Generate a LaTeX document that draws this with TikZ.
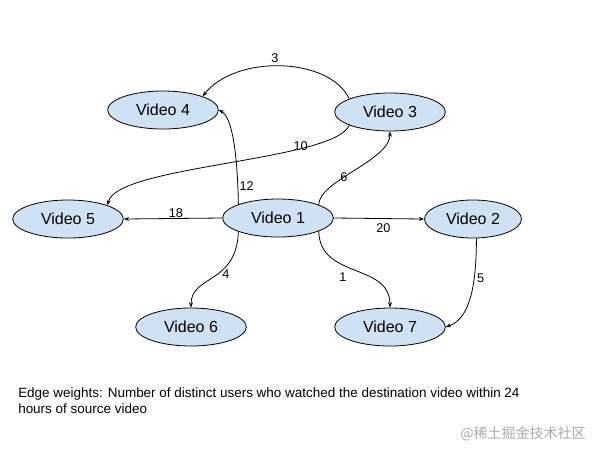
\documentclass[tikz,border=0pt]{standalone}
\usepackage{fontspec}
\setmainfont{Liberation Sans}
\newfontfamily\cjkfont{Noto Sans CJK SC}
\usetikzlibrary{arrows.meta, shapes.geometric}
\definecolor{videofill}{HTML}{CFE2F3}
\definecolor{markgray}{HTML}{AAAAAA}

\begin{document}
\begin{tikzpicture}[
    x=0.75pt, y=-0.75pt,
    v/.style={ellipse, draw=black, fill=videofill, line width=0.6pt,
              minimum width=83pt, minimum height=28.5pt, inner sep=0pt,
              font=\fontsize{12}{14}\selectfont},
    e/.style={-{Stealth[length=4pt, width=3pt]}, line width=0.6pt},
    w/.style={font=\fontsize{9.5}{11}\selectfont, inner sep=1pt}
]
\useasboundingbox (0,0) rectangle (596,455);

% videos
\node[v] (v4) at (163,110) {Video 4};
\node[v] (v3) at (390,112) {Video 3};
\node[v] (v5) at (68,219)  {Video 5};
\node[v] (v1) at (278,218) {Video 1};
\node[v, minimum width=72.75pt] (v2) at (473,219) {Video 2};
\node[v] (v6) at (191,327) {Video 6};
\node[v] (v7) at (390,327) {Video 7};

% weighted edges
\draw[e] (v1.west) -- node[w, above, inner sep=0pt, pos=0.47] (w15) {18} (v5.east);
\draw[e] (v1.east) -- node[w, below, pos=0.55, yshift=-2.5pt] (w12) {20} (v2.west);
\draw[e] (v1.161) .. controls +(-1,-54) and +(13,7) .. node[w, right, pos=0.12] (w14) {12} (v4.east);
\draw[e] (v1.18) .. controls +(0,-24) and +(0,29) .. node[w, pos=0.4] (w13) {6} (v3.south);
\draw[e] (v3.198) .. controls +(-15,36) and +(8,-40) .. node[w, pos=0.27, yshift=2pt] (w35) {10} (v5.19);
\draw[e] (v3.162) .. controls +(-20,-42) and +(33,-42) .. node[w, above, pos=0.5, xshift=-4.5pt, yshift=1.5pt] (w34) {3} (v4.19);
\draw[e] (v1.199) .. controls +(-2,53) and +(0,-33) .. node[w, right, pos=0.45, xshift=2.5pt] (w16) {4} (v6.north);
\draw[e] (v1.342) .. controls +(1,48) and +(0,-45) .. node[w, left, pos=0.55, xshift=-9pt, yshift=-3pt] (w17) {1} (v7.north);
\draw[e] (v2.280) .. controls +(0,51) and +(23,-8) .. node[w, right, pos=0.3, xshift=1pt] (w27) {5} (v7.east);

% caption
\node[anchor=north west, align=left, inner sep=0pt, font=\fontsize{10.1}{12}\selectfont]
    (caption) at (18,387) {Edge weights: Number of distinct users who watched the destination video within 24\\hours of source video};
\node[anchor=east, inner sep=0pt, text=markgray, font=\cjkfont\fontsize{10.5}{12}\selectfont]
    (mark) at (586,434) {@稀土掘金技术社区};
\end{tikzpicture}
\end{document}
